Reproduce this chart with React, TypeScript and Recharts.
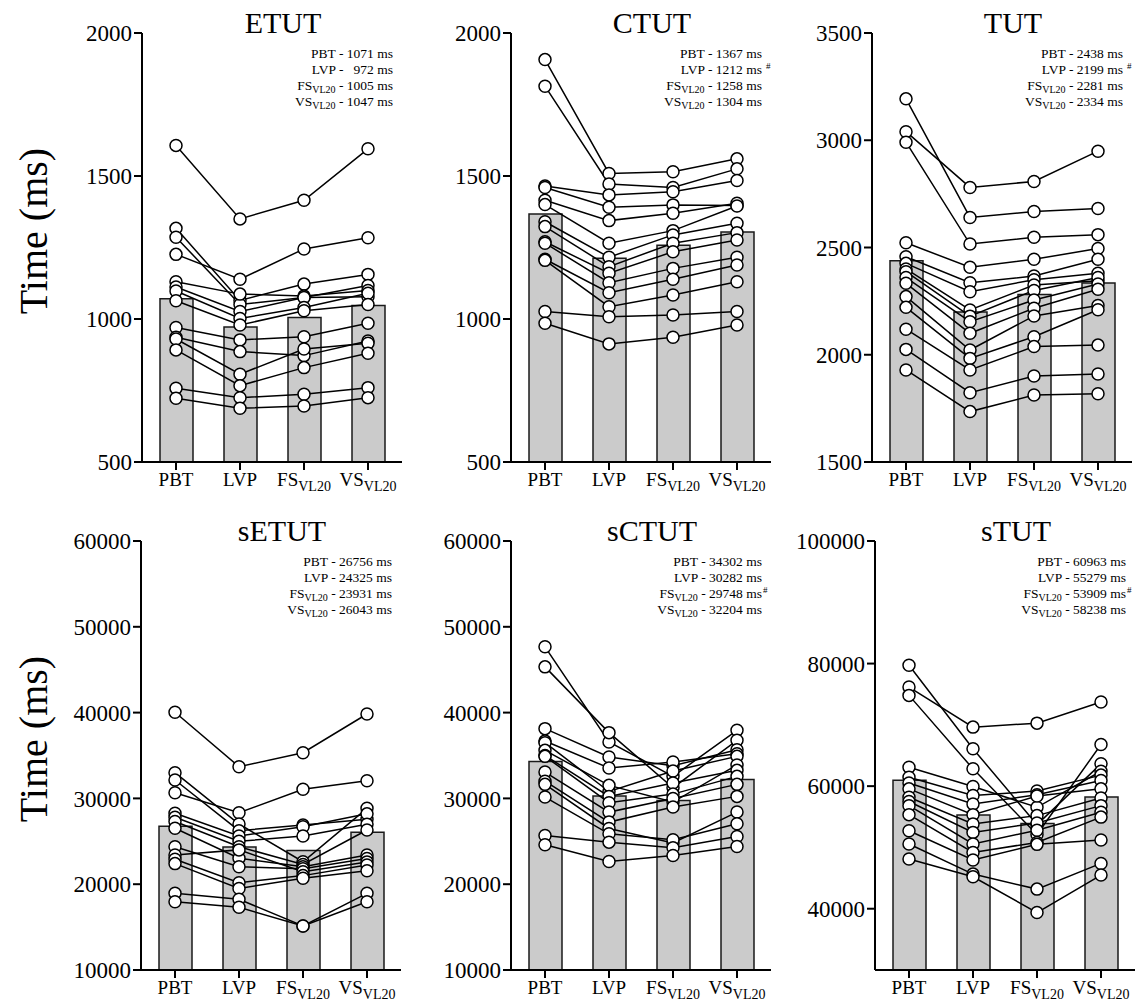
import React from "react";
import { ComposedChart, Bar, Line, XAxis, YAxis } from "recharts";

const FONT = "'Liberation Serif', 'Times New Roman', serif";

const categories = ["PBT", "LVP", "FS_VL20", "VS_VL20"];

// group means (also printed in the note box of each panel)
const etutMeans = [1071, 972, 1005, 1047];
const ctutMeans = [1367, 1212, 1258, 1304];
const tutMeans = [2438, 2199, 2281, 2334];
const setutMeans = [26756, 24325, 23931, 26043];
const sctutMeans = [34302, 30282, 29748, 32204];
const stutMeans = [60963, 55279, 53909, 58238];

// one row per subject: [PBT, LVP, FS, VS]
const etutSubjects = [
  [1607, 1350, 1415, 1595],
  [1226, 1139, 1245, 1284],
  [1317, 1065, 1122, 1156],
  [1286, 1051, 1075, 1117],
  [1130, 1087, 1080, 1100],
  [1112, 1026, 1075, 1078],
  [1098, 1002, 1040, 1090],
  [1064, 979, 1029, 1051],
  [970, 927, 938, 985],
  [936, 886, 872, 923],
  [930, 807, 895, 915],
  [892, 767, 830, 880],
  [758, 725, 737, 760],
  [723, 688, 696, 725],
];

const ctutSubjects = [
  [1907, 1509, 1515, 1560],
  [1814, 1472, 1460, 1525],
  [1465, 1434, 1445, 1484],
  [1460, 1391, 1399, 1397],
  [1415, 1344, 1370, 1405],
  [1400, 1265, 1309, 1395],
  [1340, 1216, 1294, 1335],
  [1323, 1183, 1265, 1302],
  [1270, 1160, 1235, 1276],
  [1265, 1127, 1177, 1216],
  [1209, 1092, 1139, 1189],
  [1205, 1043, 1084, 1130],
  [1026, 1008, 1014, 1026],
  [985, 913, 936, 979],
];

const tutSubjects = [
  [3193, 2640, 2668, 2682],
  [3040, 2780, 2808, 2949],
  [2991, 2516, 2548, 2560],
  [2522, 2408, 2445, 2495],
  [2457, 2336, 2367, 2445],
  [2426, 2294, 2350, 2380],
  [2400, 2209, 2325, 2345],
  [2387, 2180, 2300, 2360],
  [2360, 2154, 2255, 2330],
  [2333, 2100, 2217, 2305],
  [2271, 2022, 2181, 2230],
  [2221, 1983, 2084, 2210],
  [2119, 1929, 2038, 2045],
  [2025, 1823, 1901, 1910],
  [1929, 1735, 1812, 1818],
];

const setutSubjects = [
  [40035, 33695, 35330, 39835],
  [30665, 28335, 31060, 32065],
  [32995, 27015, 22620, 28845],
  [32145, 26235, 26900, 27565],
  [28265, 25620, 26700, 28200],
  [27800, 25000, 25620, 27000],
  [27300, 24370, 22300, 26320],
  [26515, 23020, 22040, 23400],
  [24370, 22040, 21800, 23000],
  [23400, 24000, 21460, 22600],
  [22900, 20175, 21000, 22240],
  [22400, 19500, 20690, 21575],
  [18940, 18240, 15130, 18940],
  [17960, 17310, 15130, 17960],
];

const sctutSubjects = [
  [47665, 36575, 32570, 37940],
  [45330, 37665, 31245, 36770],
  [38130, 34825, 33800, 35680],
  [36690, 33540, 34240, 35200],
  [36500, 30800, 33200, 34900],
  [35600, 31520, 29575, 33900],
  [35000, 30235, 31800, 33270],
  [34900, 29500, 30500, 32570],
  [33075, 28405, 30000, 31635],
  [32000, 27240, 29000, 30235],
  [31635, 26500, 24800, 28405],
  [30155, 25875, 25175, 27045],
  [25680, 24900, 24240, 25565],
  [24590, 22650, 23350, 24400],
];

const stutSubjects = [
  [79720, 66095, 53720, 63640],
  [76170, 69630, 70280, 73720],
  [74810, 62825, 52105, 66800],
  [63085, 59930, 56550, 62430],
  [61450, 58460, 59200, 61800],
  [60500, 57100, 58600, 60910],
  [59555, 55350, 58380, 59555],
  [58180, 53830, 55190, 58080],
  [57500, 52455, 54000, 56820],
  [56820, 50560, 52800, 55730],
  [55350, 49185, 50820, 54945],
  [52730, 47945, 50500, 51210],
  [50560, 45650, 43200, 47390],
  [48105, 45210, 39370, 45490],
];

const shortTicks = [500, 1000, 1500, 2000];
const tutTicks = [1500, 2000, 2500, 3000, 3500];
const sumTicks = [10000, 20000, 30000, 40000, 50000, 60000];
const stutTicks = [40000, 60000, 80000, 100000];

type Panel = {
  title: string;
  means: number[];
  subjects: number[][];
  domain: [number, number];
  ticks: number[];
  axisX: number;
  top: number;
  hashRow: number;
  hashTight: boolean;
};

const panels: Panel[] = [
  { title: "ETUT", means: etutMeans, subjects: etutSubjects, domain: [500, 2000], ticks: shortTicks, axisX: 142, top: 33, hashRow: -1, hashTight: false },
  { title: "CTUT", means: ctutMeans, subjects: ctutSubjects, domain: [500, 2000], ticks: shortTicks, axisX: 511, top: 33, hashRow: 1, hashTight: false },
  { title: "TUT", means: tutMeans, subjects: tutSubjects, domain: [1500, 3500], ticks: tutTicks, axisX: 872, top: 33, hashRow: 1, hashTight: false },
  { title: "sETUT", means: setutMeans, subjects: setutSubjects, domain: [10000, 60000], ticks: sumTicks, axisX: 141, top: 541, hashRow: -1, hashTight: false },
  { title: "sCTUT", means: sctutMeans, subjects: sctutSubjects, domain: [10000, 60000], ticks: sumTicks, axisX: 511, top: 541, hashRow: 2, hashTight: true },
  { title: "sTUT", means: stutMeans, subjects: stutSubjects, domain: [30000, 100000], ticks: stutTicks, axisX: 875, top: 541, hashRow: 2, hashTight: true },
];

const AXIS = { stroke: "#000", strokeWidth: 2 };

function CatTick(props: any) {
  const { x, y, payload } = props;
  const [main, sub] = String(payload.value).split("_");
  return (
    <text x={x} y={y + 14} textAnchor="middle" fontFamily={FONT} fontSize={19} fill="#000">
      <tspan>{main}</tspan>
      {sub && (
        <tspan fontSize={14} dy={5}>
          {sub}
        </tspan>
      )}
    </text>
  );
}

function PanelChart({ p }: { p: Panel }) {
  const rows = categories.map((c, i) => {
    const row: Record<string, any> = { cat: c, mean: p.means[i] };
    p.subjects.forEach((s, j) => {
      row["s" + j] = s[i];
    });
    return row;
  });
  return (
    <div style={{ position: "absolute", left: p.axisX - 80, top: p.top - 33 }}>
      <ComposedChart width={345} height={502} data={rows} margin={{ top: 33, right: 5, bottom: 0, left: 0 }}>
        <XAxis
          dataKey="cat"
          height={40}
          padding={{ left: 2, right: 2 }}
          axisLine={AXIS}
          tickLine={AXIS}
          tickSize={8}
          tickMargin={2}
          interval={0}
          tick={<CatTick />}
        />
        <YAxis
          type="number"
          width={80}
          domain={p.domain}
          ticks={p.ticks}
          interval={0}
          allowDataOverflow
          axisLine={AXIS}
          tickLine={AXIS}
          tickSize={8}
          tickMargin={2}
          tick={{ fontSize: 23, fill: "#000", fontFamily: FONT }}
        />
        <Bar dataKey="mean" barSize={33} fill="#cbcbcb" stroke="#1a1a1a" strokeWidth={1.5} isAnimationActive={false} />
        {p.subjects.map((_, j) => (
          <Line
            key={"l" + j}
            dataKey={"s" + j}
            stroke="#000"
            strokeWidth={1.5}
            dot={false}
            activeDot={false}
            isAnimationActive={false}
          />
        ))}
        {p.subjects.map((_, j) => (
          <Line
            key={"d" + j}
            dataKey={"s" + j}
            stroke="none"
            dot={{ r: 6, fill: "#fff", stroke: "#000", strokeWidth: 1.5 }}
            activeDot={false}
            isAnimationActive={false}
          />
        ))}
      </ComposedChart>
    </div>
  );
}

function Notes({ p }: { p: Panel }) {
  const right = p.axisX + 251;
  const width = Math.max(...p.means.map((m) => String(m).length));
  return (
    <g fontFamily={FONT} fontSize={13.5} fill="#000">
      {categories.map((c, i) => {
        const [main, sub] = c.split("_");
        const val = String(p.means[i]);
        const pad = "\u2007".repeat(width - val.length);
        const y = p.top + 25 + i * 16;
        return (
          <g key={c}>
            <text x={right} y={y} textAnchor="end">
              <tspan>{main}</tspan>
              {sub && (
                <tspan fontSize={10} dy={3}>
                  {sub}
                </tspan>
              )}
              <tspan dy={sub ? -3 : 0}>{` - ${pad}${val} ms`}</tspan>
            </text>
            {p.hashRow === i && (
              <text x={right + (p.hashTight ? 1 : 4)} y={y - 5} fontSize={9}>
                #
              </text>
            )}
          </g>
        );
      })}
    </g>
  );
}

export default function App() {
  return (
    <div style={{ position: "absolute", left: 0, top: 0, width: 1141, height: 1003, background: "#fff" }}>
      {panels.map((p) => (
        <PanelChart key={p.title} p={p} />
      ))}
      <svg
        width={1141}
        height={1003}
        style={{ position: "absolute", left: 0, top: 0, pointerEvents: "none" }}
      >
        {panels.map((p) => (
          <text key={p.title} x={p.axisX + 141} y={p.top} textAnchor="middle" fontFamily={FONT} fontSize={30} fill="#000">
            {p.title}
          </text>
        ))}
        {panels.map((p) => (
          <Notes key={"n" + p.title} p={p} />
        ))}
        {[231, 739].map((cy) => (
          <text
            key={cy}
            x={33}
            y={cy}
            transform={`rotate(-90, 33, ${cy})`}
            textAnchor="middle"
            dominantBaseline="central"
            fontFamily={FONT}
            fontSize={40}
            fill="#000"
          >
            Time (ms)
          </text>
        ))}
      </svg>
    </div>
  );
}
